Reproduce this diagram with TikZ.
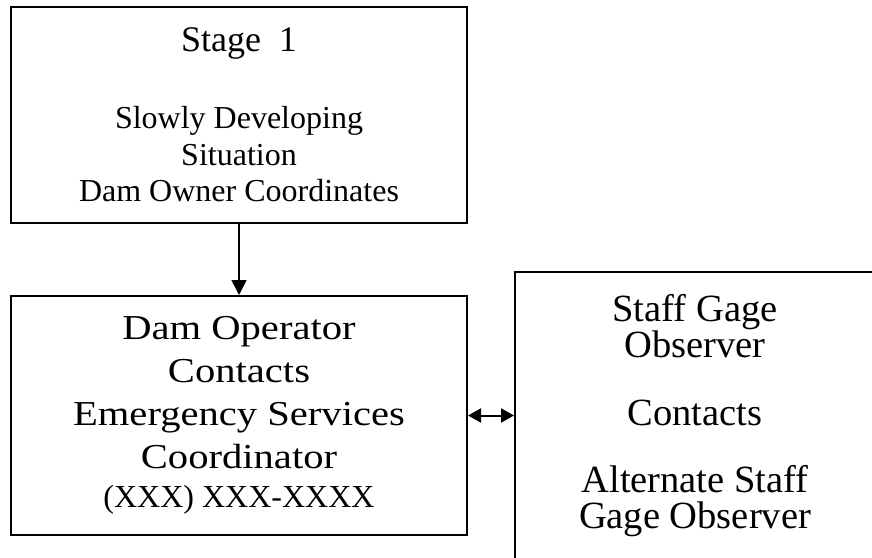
\documentclass[tikz,border=0pt]{standalone}
\usepackage{fontspec}
\setmainfont{Liberation Serif}
\newfontfamily\wideserif[FakeStretch=1.16]{Liberation Serif}
\usetikzlibrary{arrows.meta,positioning,calc}

\begin{document}
\begin{tikzpicture}[x=1pt,y=-1pt,
       box/.style={draw=black,line width=2pt,rectangle,align=center,inner sep=0pt},
       link/.style={draw=black,line width=1.5pt}]

    \tikzstyle{stagebox}=[box,minimum width=456pt,minimum height=216pt,
        font=\fontsize{32}{36.5}\selectfont]
    \tikzstyle{operbox}=[box,minimum width=456pt,minimum height=239pt,
        font=\wideserif\fontsize{35}{43}\selectfont]
    \tikzstyle{staffbox}=[box,minimum width=360pt,minimum height=330pt,text depth=52pt,
        font=\fontsize{38.5}{36}\selectfont]

    \useasboundingbox (0,0) rectangle (872,557);

    % the three boxes
    \node[stagebox] (stage) at (239,115)
        {{\fontsize{36}{36.5}\selectfont Stage\ \ 1}\\[40.5pt]
         Slowly Developing\\ Situation\\ Dam Owner Coordinates};
    \node[operbox] (oper) at (239,415.5)
        {Dam Operator\\ Contacts\\ Emergency Services\\ Coordinator\\[-4pt]
         {\normalfont\fontsize{32}{36}\selectfont (XXX) XXX-XXXX}};
    \node[staffbox,anchor=north west] (staff) at (514,271)
        {Staff Gage\\ Observer\\[32pt] Contacts\\[31pt] Alternate Staff\\ Gage Observer};

    % connectors
    \draw[link,-{Triangle[length=15pt,width=15pt]}] (stage) -- (oper);
    \draw[link,line width=2pt,{Triangle[length=13pt,width=14pt]}-{Triangle[length=13pt,width=14pt]}]
        (oper.east) -- (oper.east -| staff.west);

\end{tikzpicture}
\end{document}
